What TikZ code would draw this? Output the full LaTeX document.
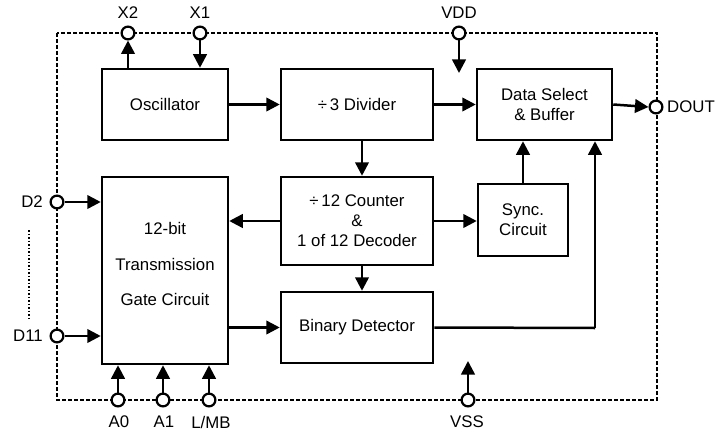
\documentclass[tikz,border=0pt]{standalone}
\usepackage{fontspec}
\setmainfont{Liberation Sans}
\usetikzlibrary{arrows.meta}
\begin{document}
\begin{tikzpicture}[x=1pt,y=-1pt,
  every node/.style={font=\fontsize{16.8}{20}\selectfont},
  blk/.style={draw, line width=2.5pt, inner sep=0pt, align=center},
  pin/.style={draw, circle, fill=white, line width=2.2pt, minimum size=12.8pt, inner sep=0pt},
  arr/.style={line width=2.5pt, -{Triangle[length=13.5pt,width=13.5pt]}},
  border/.style={line width=1.7pt, dash pattern=on 4pt off 2pt},
]
\useasboundingbox (0,0) rectangle (720,436);
% border
\coordinate (b1) at (57,33);
\coordinate (b2) at (657,400);
\draw[border] (b1) rectangle (b2);
\draw[line width=1.5pt, dotted] (29,230) -- (29,320);
% blocks
\node[blk, minimum width=126pt, minimum height=71pt] (osc) at (165,104.5) {Oscillator};
\node[blk, minimum width=152pt, minimum height=71pt] (div) at (357,104.5) {÷\,3 Divider};
\node[blk, minimum width=135pt, minimum height=71pt] (ds) at (544.5,104.5) {Data Select\\\& Buffer};
\node[blk, minimum width=126pt, minimum height=187pt] (tg) at (165,270.5) {};
\node[font=\fontsize{16.8}{35.5}\selectfont, align=center] (tgtext) at (165,264) {12-bit\\Transmission\\Gate Circuit};
\node[blk, minimum width=152pt, minimum height=88pt] (cnt) at (357,221) {÷\,12 Counter\\\&\\1 of 12 Decoder};
\node[blk, minimum width=90pt, minimum height=72pt] (sync) at (523,220) {Sync.\\Circuit};
\node[blk, minimum width=152pt, minimum height=71pt] (bin) at (357,327.5) {Binary Detector};
% pins
\node[pin] (x2) at (128,33) {};
\node[pin] (x1) at (200,33) {};
\node[pin] (vdd) at (459,33) {};
\node[pin] (dout) at (656,107) {};
\node[pin] (d2) at (57,202) {};
\node[pin] (d11) at (57,336) {};
\node[pin] (a0) at (118,400) {};
\node[pin] (a1) at (163,400) {};
\node[pin] (lmb) at (209,400) {};
\node[pin] (vss) at (468,400) {};
% pin labels
\node (lx2) at (128,13) {X2};
\node (lx1) at (200,13) {X1};
\node (lvdd) at (459,13) {VDD};
\node[anchor=west, inner sep=0pt] (ldout) at (667,107) {DOUT};
\node[anchor=east, inner sep=0pt] (ld2) at (43,202) {D2};
\node[anchor=east, inner sep=0pt] (ld11) at (43,336) {D11};
\node (la0) at (119,422) {A0};
\node (la1) at (164,422) {A1};
\node (llmb) at (211,422) {L/MB};
\node (lvss) at (467,422) {VSS};
% free ends
\coordinate (vddend) at (459,73);
\coordinate (vssend) at (468,361);
\coordinate (bdturn) at (595,328);
% connectors
\draw[arr] (osc.north -| x2) -- (x2.south);
\draw[arr] (x1.south) -- (osc.north -| x1);
\draw[arr] (vdd.south) -- (vddend);
\draw[arr] (vss.north) -- (vssend);
\draw[arr] (osc.east) -- (div.west);
\draw[arr] (div.east) -- (ds.west);
\draw[arr] (ds.east) -- (dout.west);
\draw[arr] ([xshift=5pt]div.south) -- ([xshift=5pt]cnt.north);
\draw[arr] ([xshift=5pt]cnt.south) -- ([xshift=5pt]bin.north);
\draw[arr] (cnt.west) -- (cnt.west -| tg.east);
\draw[arr] (cnt.east) -- (cnt.east -| sync.west);
\draw[arr] (sync.north) -- (sync.north |- ds.south);
\draw[arr] (tg.east |- bin.west) -- (bin.west);
\draw[line width=2.5pt] (bin.east) -- (bdturn);
\draw[arr] (bdturn) -- (bdturn |- ds.south);
\draw[arr] (d2.east) -- (d2 -| tg.west);
\draw[arr] (d11.east) -- (d11 -| tg.west);
\draw[arr] (a0.north) -- (a0 |- tg.south);
\draw[arr] (a1.north) -- (a1 |- tg.south);
\draw[arr] (lmb.north) -- (lmb |- tg.south);
\end{tikzpicture}
\end{document}
